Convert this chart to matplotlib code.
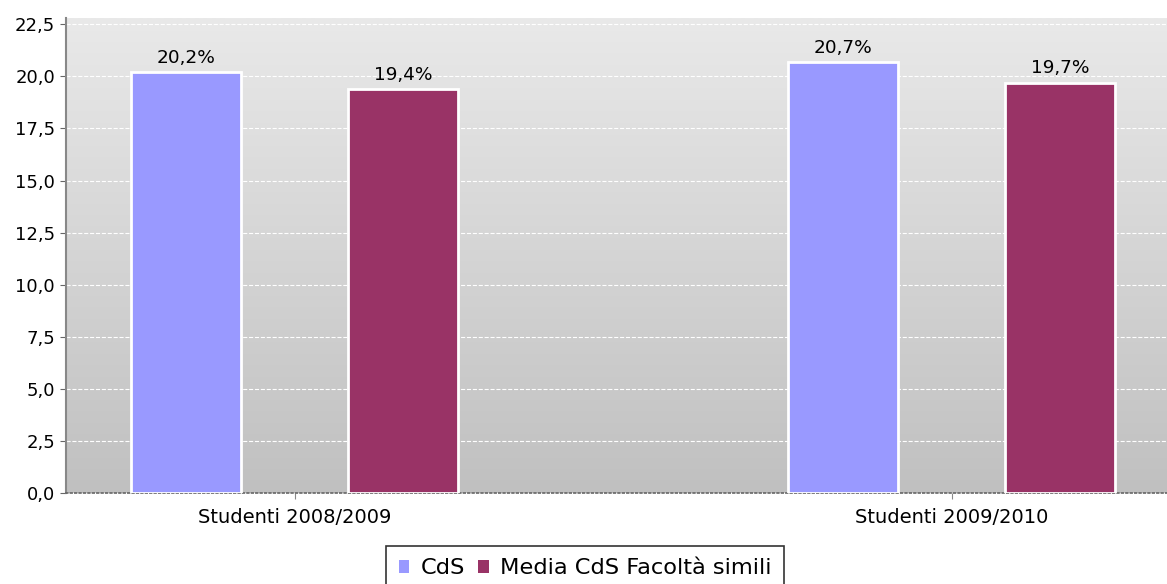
import numpy as np
import matplotlib
matplotlib.use('Agg')
import matplotlib.pyplot as plt
from matplotlib.ticker import FuncFormatter

categories = ['Studenti 2008/2009', 'Studenti 2009/2010']
series_names = ['CdS', 'Media CdS Facoltà simili']
cds_values = [20.2, 20.7]
media_values = [19.4, 19.7]
colors = ['#9999ff', '#993366']

fig = plt.figure(figsize=(11.67, 5.84), dpi=100)
ax = fig.add_axes([66 / 1167, 1 - 493 / 584, 1 - 66 / 1167, (493 - 18) / 584])

# gradient background
grad = np.linspace(0, 1, 256).reshape(-1, 1)
ax.imshow(grad, cmap=matplotlib.colors.LinearSegmentedColormap.from_list('bg', ['#c0c0c0', '#e9e9e9']),
          origin='lower', aspect='auto', extent=[0, 1, 0, 1], transform=ax.transAxes, zorder=0)

x = np.arange(len(categories))
width = 0.168
offset = 0.165
for i, (vals, name) in enumerate([(cds_values, series_names[0]), (media_values, series_names[1])]):
    pos = x + (offset if i else -offset)
    bars = ax.bar(pos, vals, width, color=colors[i], edgecolor='white', linewidth=2, label=name, zorder=3)
    for b, v in zip(bars, vals):
        ax.text(b.get_x() + b.get_width() / 2, v + 0.25, f'{v:.1f}%'.replace('.', ','),
                ha='center', va='bottom', fontsize=13.3, zorder=4)

ax.set_xlim(-0.348, 1.328)
ax.set_ylim(0, 22.8)
ax.set_yticks(np.arange(0, 22.6, 2.5))
ax.yaxis.set_major_formatter(FuncFormatter(lambda v, p: f'{v:.1f}'.replace('.', ',')))
ax.set_xticks(x)
ax.set_xticklabels(categories)
ax.tick_params(axis='y', length=4, color='#666666', labelsize=13, pad=4)
ax.tick_params(axis='x', length=4, color='#888888', labelsize=14, pad=7)

ax.grid(axis='y', color='white', linestyle='--', linewidth=0.8, zorder=1)
ax.set_axisbelow(True)
for s in ['top', 'right']:
    ax.spines[s].set_visible(False)
ax.spines['left'].set_color('#888888')
ax.spines['left'].set_linewidth(1.5)
ax.spines['bottom'].set_color('#666666')
ax.spines['bottom'].set_linestyle(':')
ax.spines['bottom'].set_linewidth(1.2)

leg = fig.legend(loc='upper center', bbox_to_anchor=(0.5015, 1 - 546 / 584), ncol=2, fontsize=16.2,
                 frameon=True, fancybox=False, handlelength=0.48, handleheight=0.48, handletextpad=0.5,
                 columnspacing=0.6, borderpad=0.55, borderaxespad=0)
leg.get_frame().set_edgecolor('black')
leg.get_frame().set_linewidth(1.2)
for h in leg.legend_handles:
    h.set_edgecolor('none')

fig.savefig('out.png', dpi=100)
